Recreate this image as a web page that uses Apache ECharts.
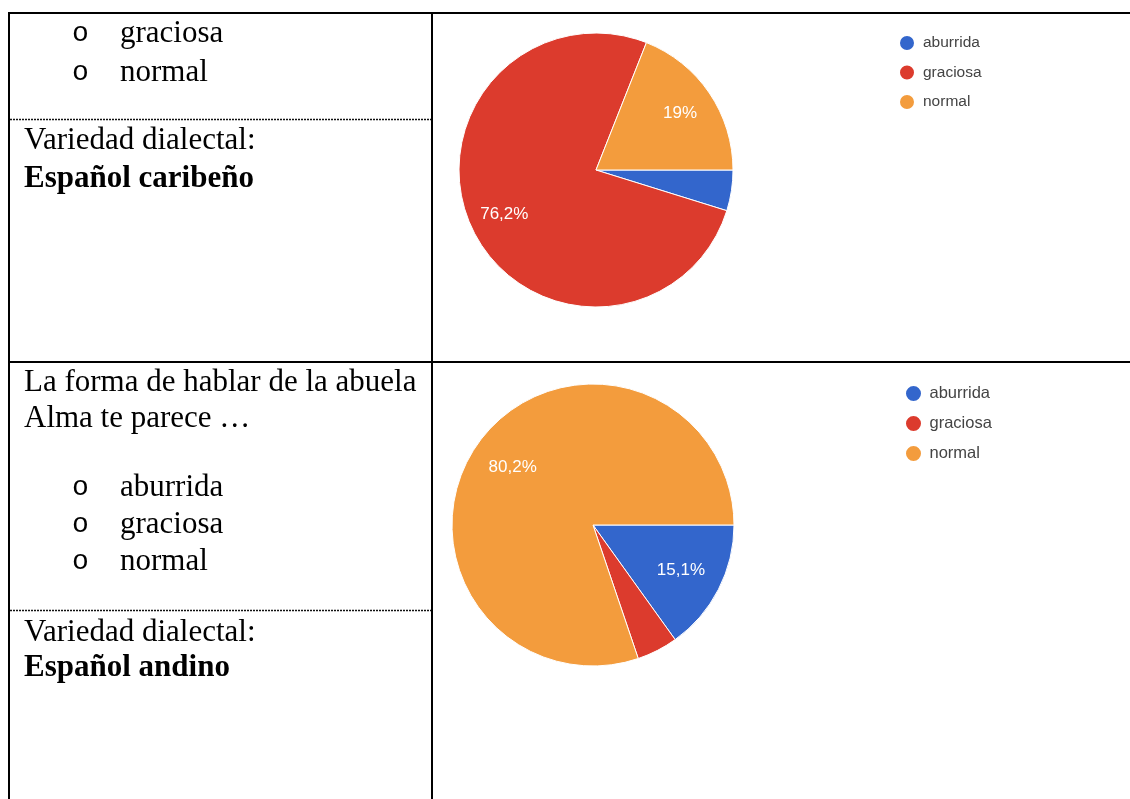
<!DOCTYPE html>
<html>
<head>
<meta charset="utf-8">
<script src="https://cdn.jsdelivr.net/npm/echarts@6/dist/echarts.min.js"></script>
<style>
html,body{margin:0;padding:0;background:#fff;}
#chart{width:1130px;height:799px;}
</style>
</head>
<body>
<div id="chart"></div>
<script>
// ---- data ----
const categories = ['aburrida', 'graciosa', 'normal'];
const caribenoValues = [4.8, 76.2, 19];   // % (Español caribeño)
const andinoValues = [15.1, 4.7, 80.2];   // % (Español andino)
const sliceColors = ['#3366cc', '#dc3b2d', '#f39c3d'];

const topCellLines = ['graciosa', 'normal'];
const topCellDialect = ['Variedad dialectal:', 'Español caribeño'];
const bottomCellQuestion = ['La forma de hablar de la abuela', 'Alma te parece …'];
const bottomCellOptions = ['aburrida', 'graciosa', 'normal'];
const bottomCellDialect = ['Variedad dialectal:', 'Español andino'];

// ---- helpers ----
function pieData(values) {
  return categories.map((c, i) => ({ name: c, value: values[i], itemStyle: { color: sliceColors[i] } }));
}
function fmt(p) { return String(p.value).replace('.', ',') + '%'; }

const serif = '"Liberation Serif", "Times New Roman", serif';
const FS = 31;
function txt(x, y, s, bold, family, size) {
  return { type: 'text', x: x, y: y, style: {
    text: s, fill: '#000', font: (bold ? 'bold ' : '') + (size || FS) + 'px ' + (family || serif),
    textAlign: 'left', textVerticalAlign: 'middle'
  } };
}
function line(x1, y1, x2, y2, w, dash, color) {
  return { type: 'line', shape: { x1: x1, y1: y1, x2: x2, y2: y2 },
    style: { stroke: color || '#000', lineWidth: w, lineDash: dash || null } };
}

function pieSeries(center, r, values, innerFrac) {
  return [
    { type: 'pie', center: center, radius: r, startAngle: 0, clockwise: true,
      data: pieData(values), label: { show: false }, labelLine: { show: false },
      itemStyle: { borderColor: '#fff', borderWidth: 1 }, emphasis: { disabled: true }, animation: false },
    { type: 'pie', center: center, radius: [r * innerFrac, r], startAngle: 0, clockwise: true, silent: true,
      legendHoverLink: false, minShowLabelAngle: 20,
      data: pieData(values).map(d => Object.assign({}, d, { itemStyle: { color: 'rgba(0,0,0,0)' } })),
      label: { show: true, position: 'inside', formatter: fmt, color: '#fff',
        fontFamily: '"Liberation Sans", Arial, sans-serif', fontSize: 17 },
      labelLine: { show: false }, emphasis: { disabled: true }, animation: false }
  ];
}

const graphics = [];
// table lines
graphics.push(line(8, 13, 1130, 13, 2));
graphics.push(line(9, 12, 9, 799, 2));
graphics.push(line(432, 12, 432, 799, 2));
graphics.push(line(8, 362, 1130, 362, 2));
graphics.push(line(10, 119.5, 431, 119.5, 1.5, [2, 1], '#111'));
graphics.push(line(10, 610.5, 431, 610.5, 1.5, [2, 1], '#111'));

// top cell text
const bulletFont = '"Liberation Mono", "Courier New", monospace';
topCellLines.forEach((s, i) => {
  const y = 34 + i * 38.5;
  graphics.push(txt(72, y, 'o', false, bulletFont, 28));
  graphics.push(txt(120, y, s));
});
graphics.push(txt(24, 141, topCellDialect[0]));
graphics.push(txt(24, 179, topCellDialect[1], true));

// bottom cell text
bottomCellQuestion.forEach((s, i) => graphics.push(txt(24, 383 + i * 36, s)));
bottomCellOptions.forEach((s, i) => {
  const y = 488 + i * 37;
  graphics.push(txt(72, y, 'o', false, bulletFont, 28));
  graphics.push(txt(120, y, s));
});
graphics.push(txt(24, 633, bottomCellDialect[0]));
graphics.push(txt(24, 668, bottomCellDialect[1], true));

const legendText = { color: '#444', fontFamily: '"Liberation Sans", Arial, sans-serif' };

const option = {
  backgroundColor: '#fff',
  animation: false,
  legend: [
    { orient: 'vertical', left: 893, top: 29, data: categories, icon: 'circle',
      itemWidth: 22, itemHeight: 16, itemGap: 11.5, selectedMode: false,
      textStyle: Object.assign({ fontSize: 15.5, lineHeight: 18 }, legendText) },
    { orient: 'vertical', left: 899, top: 379, data: categories, icon: 'circle',
      itemWidth: 22, itemHeight: 17, itemGap: 11, selectedMode: false,
      textStyle: Object.assign({ fontSize: 16.5, lineHeight: 18 }, legendText) }
  ],
  series: [].concat(pieSeries([596, 170], 137, caribenoValues, 0.44), pieSeries([593, 525], 141, andinoValues, 0.36)),
  graphic: graphics
};

const chart = echarts.init(document.getElementById('chart'), null, { renderer: 'canvas' });
chart.setOption(option);
</script>
</body>
</html>
